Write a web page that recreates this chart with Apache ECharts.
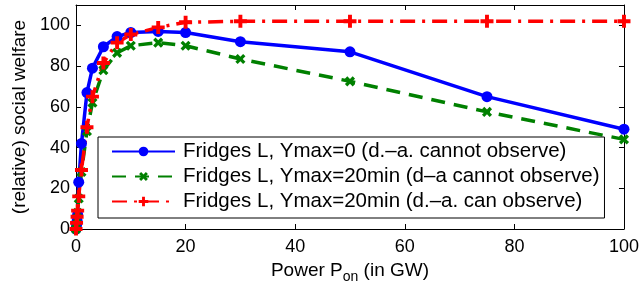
<!DOCTYPE html>
<html>
<head>
<meta charset="utf-8">
<script src="https://cdn.jsdelivr.net/npm/echarts@6/dist/echarts.min.js"></script>
<style>
  html, body { margin: 0; padding: 0; background: #fff; }
</style>
</head>
<body>
<div id="myChart" style="width: 642px; height: 293px;"></div>
<script>
// power P_on in GW
const power = [0, 0.1, 0.2, 0.3, 0.5, 1, 2, 3, 5, 7.5, 10, 15, 20, 30, 50, 75, 100];
const ymax0 = [0, 2, 4, 7, 23, 42, 67, 79, 89.5, 94.5, 96.5, 97, 96.5, 92, 87, 65, 49];
const ymax20NoObs = [0, 2, 5, 8, 15, 28, 48, 62, 78, 86.5, 90, 91.5, 90, 83.5, 72.5, 57.5, 44];
const ymax20Obs = [0, 3, 6, 9, 16, 29, 50, 65, 81.5, 91.5, 95.5, 99, 101.5, 102, 102, 102, 102];
const names = [
  'Fridges L, Ymax=0 (d.–a. cannot observe)',
  'Fridges L, Ymax=20min (d–a cannot observe)',
  'Fridges L, Ymax=20min (d.–a. can observe)'
];
const xTicks = [0, 20, 40, 60, 80, 100];
const yTicks = [0, 20, 40, 60, 80, 100];

const font = '"Liberation Sans", Arial, sans-serif';
const plus = 'path://M3.5,0H6.5V3.5H10V6.5H6.5V10H3.5V6.5H0V3.5H3.5Z';

function pairs(ys) {
  return power.map((x, i) => [x, ys[i]]);
}

let myChart = echarts.init(document.getElementById('myChart'));

const axisCommon = {
  type: 'value',
  interval: 20,
  axisLine: { show: true, onZero: false, lineStyle: { color: '#000', width: 1 } },
  axisTick: { show: true, inside: true, length: 5, lineStyle: { color: '#000' } },
  splitLine: { show: false }
};

myChart.setOption({
  animation: false,
  textStyle: { fontFamily: font },
  grid: { left: 76, right: 17, top: 5, bottom: 64 },
  legend: {
    orient: 'vertical',
    left: 98,
    top: 137,
    itemWidth: 63,
    itemHeight: 12,
    itemGap: 4,
    padding: [4, 5, 6, 13],
    borderColor: '#000',
    borderWidth: 1,
    backgroundColor: '#fff',
    textStyle: { fontFamily: font, fontSize: 20.5, color: '#000', padding: [0, 0, 0, 3] },
    data: names
  },
  xAxis: [
    Object.assign({}, axisCommon, {
      min: 0, max: 100,
      position: 'bottom',
      name: 'Power P{sub|on} (in GW)',
      nameLocation: 'middle',
      nameGap: 27,
      nameTextStyle: {
        fontFamily: font, fontSize: 19, color: '#000',
        rich: { sub: { fontFamily: font, fontSize: 14, color: '#000', padding: [14, 0, 0, 0] } }
      },
      axisLabel: {
        fontFamily: font, fontSize: 18, color: '#000', margin: 9,
        formatter: v => (xTicks.indexOf(v) >= 0 ? String(v) : '')
      }
    }),
    Object.assign({}, axisCommon, {
      min: 0, max: 100,
      position: 'top',
      axisLabel: { show: false }
    })
  ],
  yAxis: [
    Object.assign({}, axisCommon, {
      min: 0, max: 110,
      position: 'left',
      name: '(relative) social welfare',
      nameLocation: 'middle',
      nameGap: 45,
      nameTextStyle: { fontFamily: font, fontSize: 19, color: '#000' },
      axisLabel: {
        fontFamily: font, fontSize: 18, color: '#000', margin: 6,
        formatter: v => (yTicks.indexOf(v) >= 0 ? String(v) : '')
      }
    }),
    Object.assign({}, axisCommon, {
      min: 0, max: 110,
      position: 'right',
      axisLabel: { show: false }
    })
  ],
  series: [
    {
      name: names[0],
      type: 'line',
      data: pairs(ymax0),
      symbol: 'circle',
      symbolSize: 11,
      lineStyle: { color: '#0000ff', width: 3.5 },
      itemStyle: { color: '#0000ff' }
    },
    {
      name: names[1],
      type: 'line',
      data: pairs(ymax20NoObs),
      symbol: plus,
      symbolRotate: 45,
      symbolSize: 11,
      lineStyle: { color: '#008000', width: 3.5, type: [14, 9] },
      itemStyle: { color: '#008000' }
    },
    {
      name: names[2],
      type: 'line',
      data: pairs(ymax20Obs),
      symbol: plus,
      symbolSize: 13,
      lineStyle: { color: '#ff0000', width: 3.5, type: [15, 7, 3, 7] },
      itemStyle: { color: '#ff0000' }
    }
  ]
});
</script>
</body>
</html>
